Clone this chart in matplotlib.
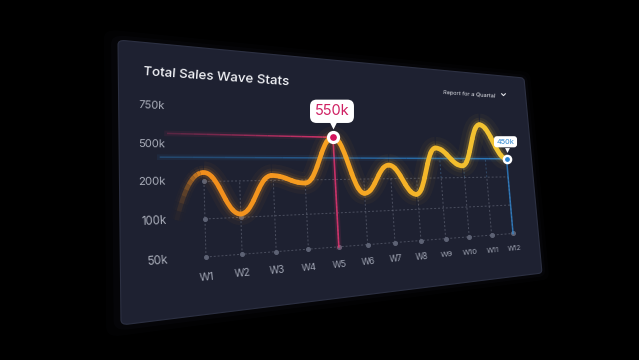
import numpy as np
import matplotlib
matplotlib.use("Agg")
import matplotlib.pyplot as plt
import matplotlib.transforms as mtransforms
from matplotlib.path import Path
from matplotlib.patches import PathPatch, FancyBboxPatch
from matplotlib.colors import LinearSegmentedColormap

plt.rcParams['font.family'] = ['Inter', 'DejaVu Sans']

# ---------------- data ----------------
title = "Total Sales Wave Stats"
period_label = "Report for a Quartal"
week_labels = ["W1", "W2", "W3", "W4", "W5", "W6", "W7", "W8", "W9", "W10", "W11", "W12"]
week_pos = np.arange(1, 13)
y_ticks = [50, 100, 200, 500, 750]                 # thousands
y_tick_labels = ["50k", "100k", "200k", "500k", "750k"]
wave_weeks = [0.25, 1.0, 2.0, 2.95, 4.0, 5.0, 6.0, 6.95, 7.95, 8.85, 9.95, 10.85, 12.0]
wave_sales = [100, 272, 109, 242, 191, 570, 156, 329, 148, 500, 320, 712, 395]
peak_week, peak_label = 5.0, "550k"
last_week, last_label = 12.0, "450k"

# ---------------- scale (ticks equally spaced) ----------------
tk = np.array(y_ticks, float)
lv = np.arange(len(tk), dtype=float)


def fwd(v):
    v = np.asarray(v, float)
    out = np.interp(v, tk, lv)
    out = np.where(v < tk[0], (v - tk[0]) / (tk[1] - tk[0]), out)
    out = np.where(v > tk[-1], lv[-1] + (v - tk[-1]) / (tk[-1] - tk[-2]), out)
    return out


def inv(l):
    l = np.asarray(l, float)
    out = np.interp(l, lv, tk)
    out = np.where(l < lv[0], tk[0] + l * (tk[1] - tk[0]), out)
    out = np.where(l > lv[-1], tk[-1] + (l - lv[-1]) * (tk[-1] - tk[-2]), out)
    return out


# ---------------- perspective ----------------
W, H = 639, 360


def homography(src, dst):
    A, b = [], []
    for (x, y), (u, v) in zip(src, dst):
        A.append([x, y, 1, 0, 0, 0, -u * x, -u * y]); b.append(u)
        A.append([0, 0, 0, x, y, 1, -v * x, -v * y]); b.append(v)
    h = np.linalg.solve(np.array(A, float), np.array(b, float))
    return np.append(h, 1.0).reshape(3, 3)


class Persp(mtransforms.Transform):
    input_dims = 2
    output_dims = 2
    is_separable = False
    has_inverse = False

    def __init__(self, M):
        super().__init__()
        self.M = M

    def transform_non_affine(self, values):
        v = np.asarray(values, float).reshape(-1, 2)
        p = np.column_stack([v, np.ones(len(v))]) @ self.M.T
        return p[:, :2] / p[:, 2:3]


def disp(p):
    return (p[0], H - p[1])


flat_img = [(118, 40), (542, 40), (542, 325), (118, 325)]
quad_img = [(118, 40), (524, 78), (542, 273), (121, 325)]
M = homography([disp(p) for p in flat_img], [disp(p) for p in quad_img])
Minv = np.linalg.inv(M)
persp = Persp(M)


def warp(pf):
    return np.asarray(persp.transform(np.atleast_2d(np.asarray(pf, float)))).reshape(-1, 2)[0]


def unwarp(p_img):
    x, y = disp(p_img)
    q = Minv @ np.array([x, y, 1.0])
    return q[:2] / q[2]


def local(pf):
    pf = np.asarray(pf, float).reshape(2)
    p0 = warp(pf)
    p1 = warp(pf + [10, 0])
    p2 = warp(pf + [0, 10])
    ang = np.degrees(np.arctan2(p1[1] - p0[1], p1[0] - p0[0]))
    sc = np.sqrt(np.hypot(*(p1 - p0)) / 10 * np.hypot(*(p2 - p0)) / 10)
    return float(ang), float(sc)


# ---------------- figure ----------------
fig = plt.figure(figsize=(6.39, 3.6), dpi=100, facecolor='black')
ax = fig.add_axes([0, 0, 1, 1])
ax.set_axis_off()
ax.set_yscale('function', functions=(fwd, inv))
ax.autoscale(False)

F0 = unwarp((206, 257))
F12 = unwarp((513, 233))
F4 = unwarp((200, 108))
bx = (F12[0] - F0[0]) / (week_pos[-1] - week_pos[0])
ax0 = F0[0] - bx * week_pos[0]
dy = (F4[1] - F0[1]) / (lv[-1] - lv[0])
cy = F0[1]
ax.set_xlim((0 - ax0) / bx, (W - ax0) / bx)
ax.set_ylim(float(inv((0 - cy) / dy)), float(inv((H - cy) / dy)))

chain = ax.transData + persp

# panel (soft shadow + body)
for grow, a in [(10, 0.04), (5, 0.06)]:
    ax.add_patch(FancyBboxPatch((118 - grow, 35 - grow), 424 + 2 * grow, 285 + 2 * grow,
                                boxstyle='round,pad=0,rounding_size=10', transform=persp,
                                facecolor='#3a4060', edgecolor='none', alpha=a, zorder=0))
panel = FancyBboxPatch((118, 35), 424, 285, boxstyle='round,pad=0,rounding_size=5',
                       transform=persp, facecolor='#1e2131', edgecolor='#2c3042',
                       lw=0.8, zorder=0)
ax.add_patch(panel)

# grid
grid_kw = dict(color='#8a8fa0', lw=0.7, ls=(0, (2, 2)), alpha=0.42, transform=chain, zorder=1)
for lvl in [0, 1, 2]:
    yv = float(inv(lvl))
    ax.plot([week_pos[0], week_pos[-1]], [yv, yv], **grid_kw)
for w in week_pos:
    ax.plot([w, w], [tk[0], tk[2]], **grid_kw)
last_idx = wave_weeks.index(last_week)
last_val = wave_sales[last_idx]
for w in week_pos[8:11]:
    ax.plot([w, w], [tk[2], last_val], color='#4d7fae', lw=0.7, ls=(0, (2, 2)),
            alpha=0.45, transform=chain, zorder=1)
ax.plot(week_pos, [tk[0]] * len(week_pos), 'o', ms=2.6, color='#5d6274', transform=chain, zorder=2)
ax.plot([1, 1, 2], [tk[1], tk[2], tk[1]], 'o', ms=2.6, color='#5d6274', transform=chain, zorder=2)

# guide lines
peak_idx = wave_weeks.index(peak_week)
peak_val = wave_sales[peak_idx]
red = '#e2336f'
blue = '#2f8fe0'
n = 14
xs = np.linspace(0.05, peak_week, n + 1)
for i in range(n):
    a = 0.25 + 0.7 * i / (n - 1)
    ax.plot(xs[i:i + 2], [peak_val, peak_val], color=red, lw=1.1, alpha=a,
            transform=chain, zorder=2, solid_capstyle='butt')
ax.plot([0.05, peak_week], [peak_val, peak_val], color=red, lw=4, alpha=0.08, transform=chain, zorder=2)
ax.plot([peak_week, peak_week], [peak_val, tk[0]], color=red, lw=1.2, alpha=0.85, transform=chain, zorder=2)
ax.plot([peak_week, peak_week], [peak_val, tk[0]], color=red, lw=4, alpha=0.12, transform=chain, zorder=2)

xs = np.linspace(-0.15, last_week, n + 1)
for i in range(n):
    a = 0.3 + 0.5 * i / (n - 1)
    ax.plot(xs[i:i + 2], [last_val, last_val], color=blue, lw=1.1, alpha=a,
            transform=chain, zorder=2, solid_capstyle='butt')
ax.plot([-0.15, last_week], [last_val, last_val], color=blue, lw=4, alpha=0.08, transform=chain, zorder=2)
ax.plot([last_week, last_week], [last_val, tk[0]], color=blue, lw=1.1, alpha=0.7, transform=chain, zorder=2)


# ---------------- wave ----------------
def split(P, t):
    P = np.asarray(P, float)
    a = P[0] + (P[1] - P[0]) * t
    b = P[1] + (P[2] - P[1]) * t
    c = P[2] + (P[3] - P[2]) * t
    d = a + (b - a) * t
    e = b + (c - b) * t
    f = d + (e - d) * t
    return np.array([P[0], a, d, f]), np.array([f, e, c, P[3]])


def subdivide(seg, n):
    rest = seg
    out = []
    for j in range(n, 1, -1):
        left, rest = split(rest, 1.0 / j)
        out.append(left)
    out.append(rest)
    return out


cmap = LinearSegmentedColormap.from_list('wave', ['#ef8a1b', '#f5981f', '#f6a823', '#f3bc2c', '#f1c534'])
lx = np.array(wave_weeks, float)
ly = fwd(np.array(wave_sales, float))
k = 0.42
codes = [Path.MOVETO, Path.CURVE4, Path.CURVE4, Path.CURVE4]


def to_path(P):
    verts = np.column_stack([P[:, 0], inv(P[:, 1])])
    return Path(verts, codes)


span = lx[-1] - lx[0]
for i in range(len(lx) - 1):
    x0, y0, x1, y1 = lx[i], ly[i], lx[i + 1], ly[i + 1]
    dx = x1 - x0
    c1 = (x0 + 0.3 * dx, y0 + 0.8) if i == 0 else (x0 + k * dx, y0)
    c2 = (x1 - k * dx, y1)
    seg = np.array([(x0, y0), c1, c2, (x1, y1)])
    col = cmap(((x0 + x1) / 2 - lx[0]) / span)
    if i == 0:
        pieces = subdivide(seg, 10)
        for j, pc in enumerate(pieces):
            fa = (j + 1) / len(pieces)
            c = cmap((pc[:, 0].mean() - lx[0]) / span)
            for lw, a in [(10, 0.06), (6.5, 0.12)]:
                ax.add_patch(PathPatch(to_path(pc), fill=False, ec=c, lw=lw, alpha=a * fa,
                                       transform=chain, zorder=3, capstyle='butt'))
            ax.add_patch(PathPatch(to_path(pc), fill=False, ec=c, lw=3.4, alpha=fa ** 1.5,
                                   transform=chain, zorder=4, capstyle='butt'))
        continue
    for lw, a in [(16, 0.04), (10, 0.07), (6.5, 0.15)]:
        ax.add_patch(PathPatch(to_path(seg), fill=False, ec=col, lw=lw, alpha=a,
                               transform=chain, zorder=3, capstyle='butt', joinstyle='round'))
    for pc in subdivide(seg, 5):
        c = cmap((pc[:, 0].mean() - lx[0]) / span)
        ax.add_patch(PathPatch(to_path(pc), fill=False, ec=c, lw=3.4,
                               transform=chain, zorder=4, capstyle='round', joinstyle='round'))

# markers
ax.plot([peak_week], [peak_val], 'o', ms=7.2, mfc='#d3145c', mec='white', mew=2.3,
        transform=chain, zorder=6)
ax.plot([last_week], [last_val], 'o', ms=5.2, mfc='#2b84cf', mec='white', mew=1.7,
        transform=chain, zorder=6)

# callouts
ax.plot([peak_week], [peak_val], marker='v', ms=5.5, color='white', mec='none',
        transform=mtransforms.offset_copy(chain, fig, x=0, y=12, units='dots'), zorder=7)
ax.text(peak_week, peak_val, peak_label, color='#cf1f62', fontsize=10.5, ha='center', va='center',
        transform=mtransforms.offset_copy(chain, fig, x=-1, y=26, units='dots'), zorder=8,
        bbox=dict(boxstyle='round,pad=0.32,rounding_size=0.45', fc='white', ec='none'))
ax.plot([last_week], [last_val], marker='v', ms=3.5, color='white', mec='none',
        transform=mtransforms.offset_copy(chain, fig, x=0, y=9, units='dots'), zorder=7)
ax.text(last_week, last_val, last_label, color='#2c86cf', fontsize=5.3, ha='center', va='center',
        transform=mtransforms.offset_copy(chain, fig, x=-1, y=17, units='dots'), zorder=8,
        bbox=dict(boxstyle='round,pad=0.35,rounding_size=0.4', fc='white', ec='none'))


# ---------------- labels ----------------
def data_text(x, y, s, size, **kw):
    pf = ax.transData.transform((x, y))
    ang, sc = local(pf)
    ax.text(x, y, s, transform=chain, rotation=ang, rotation_mode='anchor',
            fontsize=size * sc, **kw)


def img_text(p_img, s, size, **kw):
    pf = unwarp(p_img)
    ang, sc = local(pf)
    ax.text(pf[0], pf[1], s, transform=persp, rotation=ang, rotation_mode='anchor',
            fontsize=size * sc, **kw)
    return pf


for v, s in zip(y_ticks, y_tick_labels):
    data_text(0.0, v, s, 7.3, color='#a9adb9', ha='right', va='center')
label_y = float(inv(-0.52))
for w, s in zip(week_pos, week_labels):
    data_text(w, label_y, s, 7.0, color='#9ea3b1', ha='center', va='center')

img_text((143, 72), title, 8.6, color='#f2f3f7', ha='left', va='center', fontweight='medium')
img_text((443, 93), period_label, 5.4, color='#e2e4ea', ha='left', va='center')
pf = unwarp((503, 93.5))
ax.plot([pf[0]], [pf[1]], marker=[(-1, 0.5), (0, -0.5), (1, 0.5)], ms=3.2, mfc='none',
        mec='#e2e4ea', mew=0.8, transform=persp, zorder=5)

fig.savefig('out.png', dpi=100, facecolor='black')
